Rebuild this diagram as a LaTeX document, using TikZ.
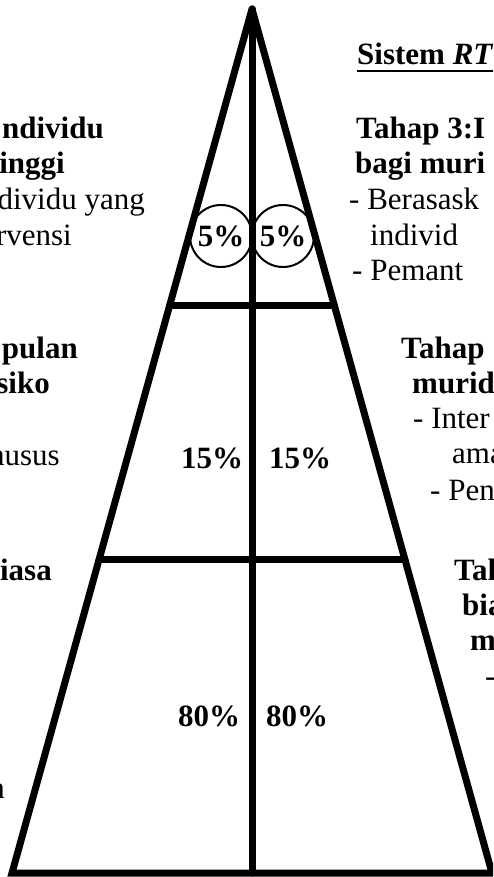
\documentclass[tikz,border=0pt]{standalone}
\usepackage{fontspec}
\setmainfont{Liberation Serif}
\usetikzlibrary{calc}

\begin{document}
\fontsize{31}{35}\selectfont
\begin{tikzpicture}[x=1pt, y=-1pt,
  edge/.style={line width=7pt, line cap=round, line join=miter},
  pct/.style={inner sep=0pt, font=\bfseries},
  ring/.style={circle, draw, line width=2pt, minimum size=62pt, inner sep=0pt, font=\bfseries},
  rhead/.style={anchor=base west, inner sep=0pt, font=\bfseries},
  rline/.style={anchor=base west, inner sep=0pt},
  lhead/.style={anchor=base east, inner sep=0pt, font=\bfseries},
  lline/.style={anchor=base east, inner sep=0pt}]

  \useasboundingbox (0,0) rectangle (493,877);
  \clip (0,0) rectangle (493,877);

  % pyramid
  \coordinate (apex) at (252,9);
  \coordinate (bl) at (12,873);
  \coordinate (br) at (492,873);
  \coordinate (mid) at (252,873);

  \draw[edge] (apex) -- (bl) -- (br) -- (apex);
  \draw[edge] (apex) -- (mid);
  \draw[edge] ($(apex)!0.3434!(bl)$) -- ($(apex)!0.3434!(br)$);
  \draw[edge] ($(apex)!0.637!(bl)$) -- ($(apex)!0.637!(br)$);

  % percentages
  \node[ring] (t3l) at (221,236) {5\%};
  \node[ring] (t3r) at (283,236) {5\%};
  \node[pct] (t2l) at (212,458) {15\%};
  \node[pct] (t2r) at (300,458) {15\%};
  \node[pct] (t1l) at (209,716) {80\%};
  \node[pct] (t1r) at (297,716) {80\%};

  % left column
  \node[lhead] (l31) at (104,139) {ndividu};
  \node[lhead] (l32) at (65,174) {inggi};
  \node[lline] (l33) at (145,210) {dividu yang};
  \node[lline] (l34) at (72,245) {rvensi};
  \node[lhead] (l21) at (78,358) {pulan};
  \node[lhead] (l22) at (50,393) {siko};
  \node[lline] (l23) at (60,465) {husus};
  \node[lhead] (l11) at (52,580) {iasa};
  \node[lline] (l12) at (5,798) {n};

  % right column
  \node[rhead] (sys) at (357,65) {Sistem \textit{RT}};
  \draw[line width=2.5pt] ([yshift=-6pt]sys.base west) -- ([yshift=-6pt]sys.base east);
  \node[rhead] (r31) at (356,139) {Tahap 3:I};
  \node[rhead] (r32) at (355,174) {bagi muri};
  \node[rline] (r33) at (349,210) {- Berasask};
  \node[rline] (r34) at (370,245) {individ};
  \node[rline] (r35) at (352,280) {- Pemant};
  \node[rhead] (r21) at (401,358) {Tahap};
  \node[rhead] (r22) at (412,393) {murid};
  \node[rline] (r23) at (413,428) {- Inter};
  \node[rline] (r24) at (452,463) {ama};
  \node[rline] (r25) at (430,500) {- Pen};
  \node[rhead] (r11) at (454,580) {Tah};
  \node[rhead] (r12) at (462,615) {bia};
  \node[rhead] (r13) at (470,650) {m};
  \node[rline] (r14) at (485,686) {-};

\end{tikzpicture}
\end{document}
